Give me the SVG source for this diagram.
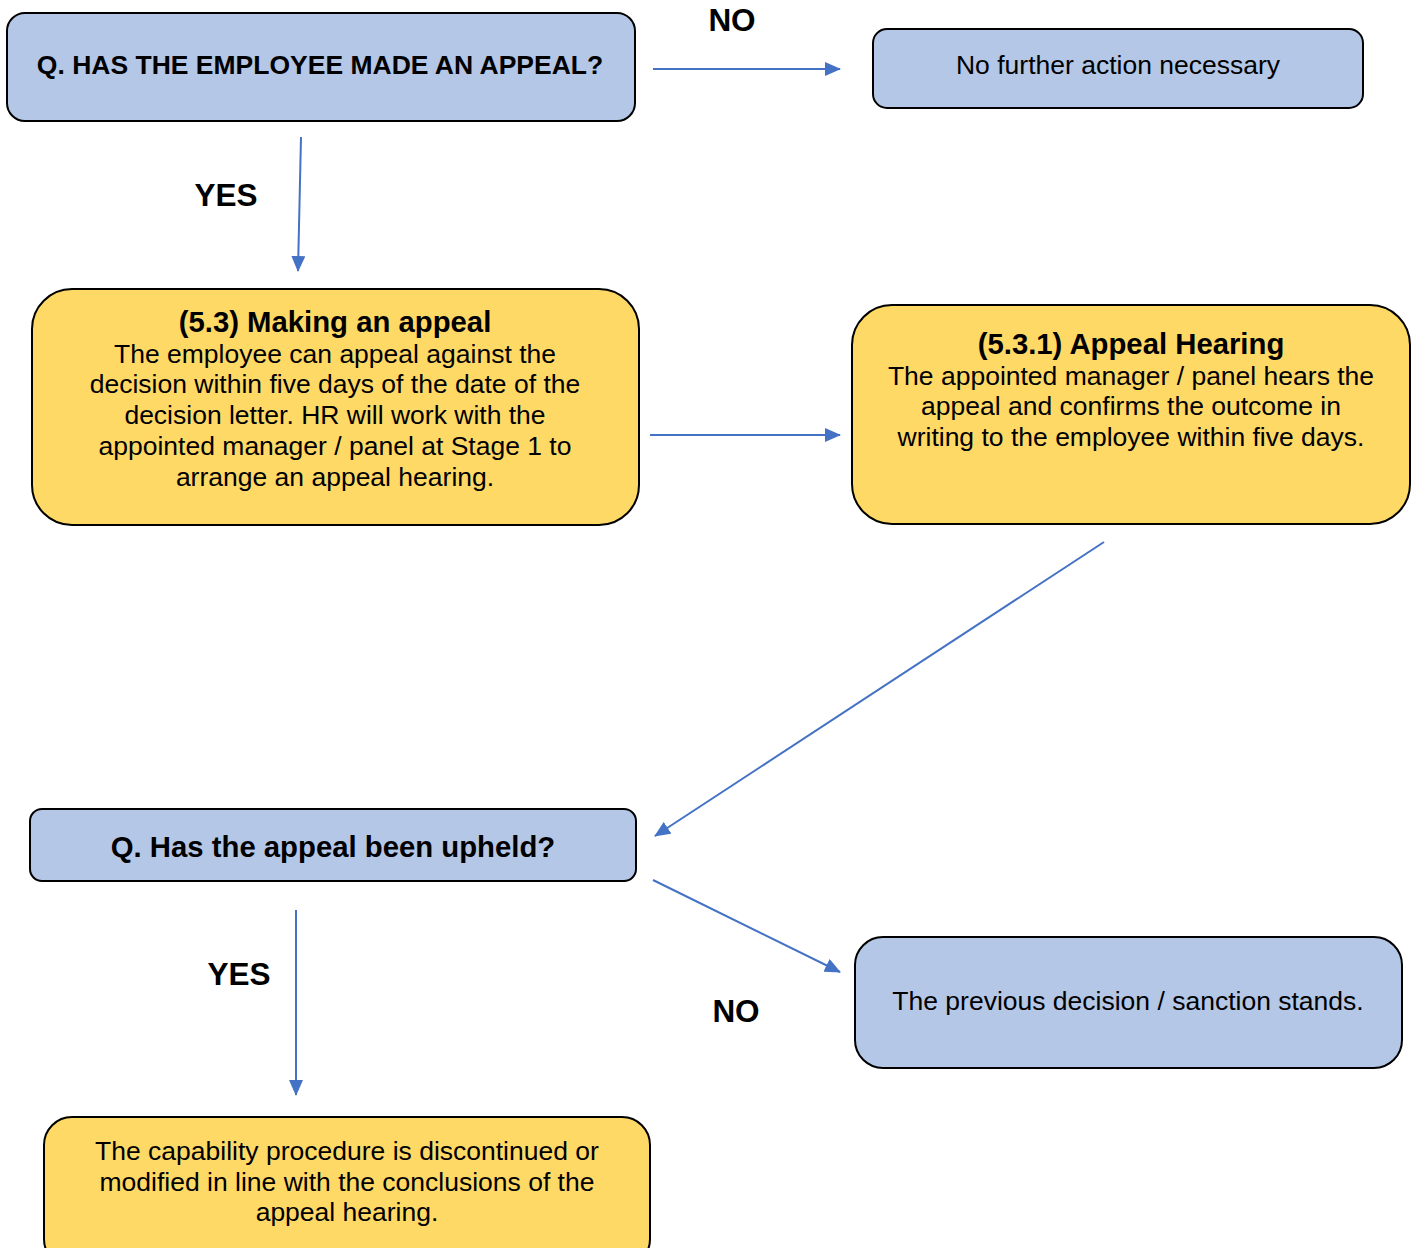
<svg xmlns="http://www.w3.org/2000/svg" width="1414" height="1248" viewBox="0 0 1414 1248">
<defs>
<marker id="ah" markerWidth="16" markerHeight="14" refX="15" refY="7" orient="auto" markerUnits="userSpaceOnUse">
<path d="M0,0 L16,7 L0,14 Z" fill="#4472C4"/>
</marker>
<style>
.blue{fill:#B4C7E7;stroke:#000;stroke-width:2}
.yel{fill:#FFD966;stroke:#000;stroke-width:2}
.t{font-family:"Liberation Sans",Arial,sans-serif;font-size:26.5px;fill:#000;text-anchor:middle}
.h{font-weight:bold;font-size:29.3px}
.lbl{font-family:"Liberation Sans",Arial,sans-serif;font-size:31.5px;font-weight:bold;fill:#000;text-anchor:middle}
.c{stroke:#4472C4;stroke-width:2;fill:none;marker-end:url(#ah)}
</style>
</defs>
<rect width="1414" height="1248" fill="#fff"/>
<g id="connectors">
<line class="c" x1="653" y1="69" x2="840" y2="69"/>
<line class="c" x1="301" y1="137" x2="298" y2="271"/>
<line class="c" x1="650" y1="435" x2="840" y2="435"/>
<line class="c" x1="1104" y1="542" x2="655" y2="836"/>
<line class="c" x1="653" y1="880" x2="840" y2="972"/>
<line class="c" x1="296" y1="910" x2="296" y2="1095"/>
</g>
<g id="labels">
<text class="lbl" x="732" y="31">NO</text>
<text class="lbl" x="226" y="206">YES</text>
<text class="lbl" x="239" y="985">YES</text>
<text class="lbl" x="736" y="1022">NO</text>
</g>
<g id="q1">
<rect class="blue" x="7" y="13" width="628" height="108" rx="18"/>
<text class="t" style="font-weight:bold" x="320" y="74">Q. HAS THE EMPLOYEE MADE AN APPEAL?</text>
</g>
<g id="nofurther">
<rect class="blue" x="873" y="29" width="490" height="79" rx="14"/>
<text class="t" x="1118" y="74">No further action necessary</text>
</g>
<g id="making">
<rect class="yel" x="32" y="289" width="607" height="236" rx="40"/>
<text class="t h" x="335" y="332">(5.3) Making an appeal</text>
<text class="t" x="335" y="363">The employee can appeal against the</text>
<text class="t" x="335" y="393">decision within five days of the date of the</text>
<text class="t" x="335" y="424">decision letter. HR will work with the</text>
<text class="t" x="335" y="455">appointed manager / panel at Stage 1 to</text>
<text class="t" x="335" y="486">arrange an appeal hearing.</text>
</g>
<g id="hearing">
<rect class="yel" x="852" y="305" width="558" height="219" rx="40"/>
<text class="t h" x="1131" y="354">(5.3.1) Appeal Hearing</text>
<text class="t" x="1131" y="385">The appointed manager / panel hears the</text>
<text class="t" x="1131" y="415">appeal and confirms the outcome in</text>
<text class="t" x="1131" y="446">writing to the employee within five days.</text>
</g>
<g id="q2">
<rect class="blue" x="30" y="809" width="606" height="72" rx="12"/>
<text class="t h" x="333" y="857">Q. Has the appeal been upheld?</text>
</g>
<g id="stands">
<rect class="blue" x="855" y="937" width="547" height="131" rx="28"/>
<text class="t" x="1128" y="1010">The previous decision / sanction stands.</text>
</g>
<g id="discontinued">
<rect class="yel" x="44" y="1117" width="606" height="150" rx="28"/>
<text class="t" x="347" y="1160">The capability procedure is discontinued or</text>
<text class="t" x="347" y="1191">modified in line with the conclusions of the</text>
<text class="t" x="347" y="1221">appeal hearing.</text>
</g>
</svg>
